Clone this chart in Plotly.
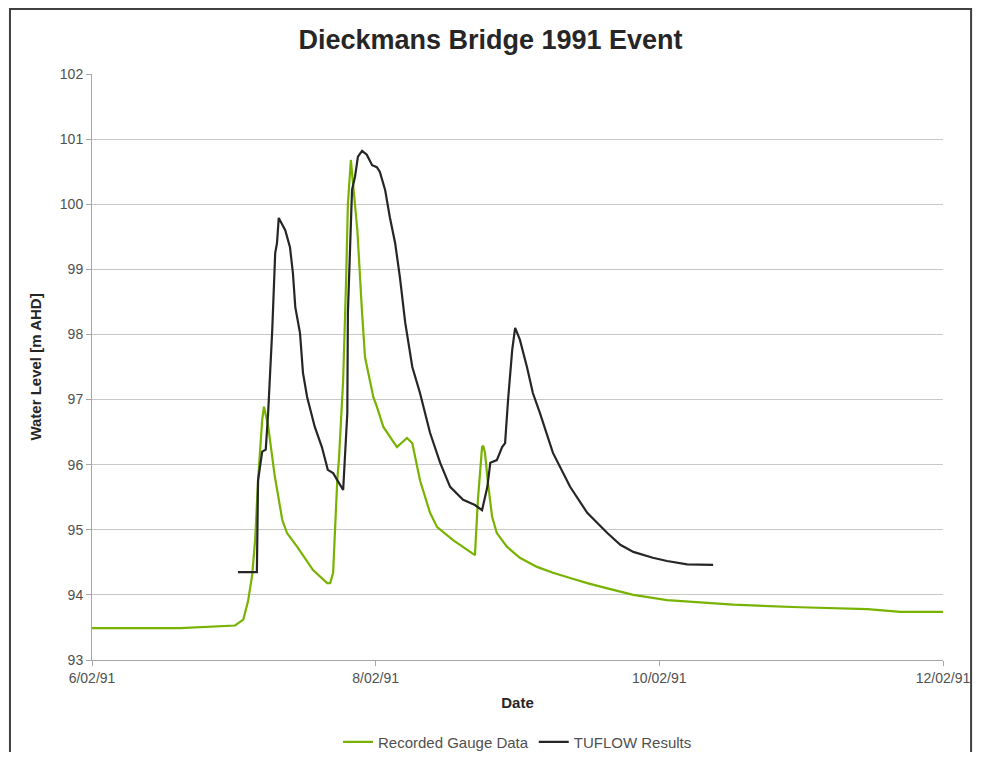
import pandas as pd
import plotly.graph_objects as go

# hours after 6/02/91 00:00 and water levels
start = pd.Timestamp("1991-02-06")

gauge_hours = [0, 14.9, 24.2, 25.6, 26.4, 27.1, 27.6, 28.1, 28.8, 29.1, 29.8, 30.9,
               32.2, 33.0, 34.7, 37.4, 39.8, 40.3, 40.8, 41.1, 41.5, 41.8, 42.5,
               43.0, 43.3, 43.8, 44.3, 44.9, 45.7, 46.2, 47.6, 48.2, 49.3, 51.6,
               53.3, 54.2, 55.5, 57.2, 58.4, 61.1, 64.8, 65.3, 66.0, 66.2, 66.5,
               67.0, 67.7, 68.5, 70.2, 72.4, 75.3, 78.0, 80.9, 83.8, 87.2, 91.6,
               97.3, 108.5, 119.8, 131.2, 136.8, 144.0]
gauge_level = [93.49, 93.49, 93.53, 93.62, 93.9, 94.3, 94.84, 95.76, 96.69, 96.89,
               96.6, 95.84, 95.15, 94.95, 94.74, 94.38, 94.18, 94.18, 94.34, 94.95,
               95.76, 96.1, 97.3, 98.84, 100.0, 100.68, 100.2, 99.6, 98.33, 97.65,
               97.04, 96.89, 96.58, 96.27, 96.41, 96.33, 95.76, 95.26, 95.04, 94.84,
               94.61, 95.46, 96.27, 96.29, 96.18, 95.72, 95.2, 94.95, 94.74, 94.57,
               94.43, 94.34, 94.26, 94.18, 94.1, 94.0, 93.92, 93.85, 93.81, 93.78,
               93.74, 93.74]

tuflow_hours = [24.7, 27.9, 28.1, 28.8, 29.4, 29.8, 30.5, 31.0, 31.3, 31.6, 32.7,
                33.5, 34.0, 34.4, 35.2, 35.7, 36.4, 37.7, 38.9, 39.9, 40.8, 42.5,
                43.2, 43.3, 44.0, 44.5, 45.0, 45.7, 46.5, 47.4, 48.2, 48.7, 49.6,
                50.4, 51.3, 52.1, 53.0, 54.2, 55.5, 57.2, 58.9, 60.6, 62.8, 64.8,
                66.0, 66.9, 67.4, 68.5, 69.4, 69.9, 70.4, 71.1, 71.6, 72.4, 73.6,
                74.6, 75.8, 78.0, 80.9, 83.8, 87.2, 89.4, 91.6, 94.9, 97.3, 100.7,
                105.1]
tuflow_level = [94.35, 94.35, 95.76, 96.2, 96.23, 96.79, 98.07, 99.25, 99.4, 99.79,
                99.6, 99.34, 98.94, 98.42, 98.02, 97.41, 97.04, 96.58, 96.27, 95.92,
                95.87, 95.61, 96.79, 98.33, 100.22, 100.42, 100.73, 100.82, 100.76,
                100.6, 100.57, 100.5, 100.22, 99.8, 99.4, 98.88, 98.18, 97.5, 97.1,
                96.49, 96.03, 95.66, 95.46, 95.38, 95.3, 95.66, 96.03, 96.07, 96.27,
                96.33, 96.99, 97.76, 98.1, 97.92, 97.5, 97.1, 96.79, 96.18, 95.66,
                95.26, 94.95, 94.77, 94.66, 94.57, 94.52, 94.47, 94.46]

gauge_x = start + pd.to_timedelta(gauge_hours, unit="h")
tuflow_x = start + pd.to_timedelta(tuflow_hours, unit="h")

fig = go.Figure()
fig.add_trace(go.Scatter(x=gauge_x, y=gauge_level, mode="lines",
                         name="Recorded Gauge Data",
                         line=dict(color="#77b300", width=2.2)))
fig.add_trace(go.Scatter(x=tuflow_x, y=tuflow_level, mode="lines",
                         name="TUFLOW Results",
                         line=dict(color="#262626", width=2.2)))

# the page body adds an 8px offset, so the figure is 16px smaller than the window
fig.update_layout(
    width=965, height=744,
    margin=dict(l=84, r=30, t=66, b=92, autoexpand=False),
    paper_bgcolor="white", plot_bgcolor="white",
    font=dict(family="Liberation Sans, Arial", size=14, color="#505050"),
    title=dict(text="<b>Dieckmans Bridge 1991 Event</b>", x=0.5, xanchor="center",
               y=0.957, yanchor="middle",
               font=dict(size=27, color="#262626")),
    showlegend=True,
    legend=dict(orientation="h", x=0.5, xanchor="center",
                y=-0.14, yanchor="middle",
                font=dict(size=15, color="#505050")),
)
fig.update_xaxes(
    type="date", range=["1991-02-06", "1991-02-12"],
    dtick=2 * 86400000, tick0="1991-02-06", tickformat="%-d/%m/%y",
    tickfont=dict(size=14),
    showgrid=False, showline=True, linecolor="#a6a6a6", linewidth=1,
    ticks="outside", ticklen=5, tickcolor="#a6a6a6", automargin=False,
    title=dict(text="<b>Date</b>", standoff=12, font=dict(size=15, color="#262626")),
)
fig.update_yaxes(
    range=[93, 102], dtick=1, tickfont=dict(size=14),
    showgrid=True, gridcolor="#c8c8c8", gridwidth=1,
    showline=True, linecolor="#a6a6a6", linewidth=1,
    ticks="outside", ticklen=5, tickcolor="#a6a6a6", automargin=False,
    title=dict(text="<b>Water Level [m AHD]</b>", standoff=14,
               font=dict(size=15, color="#262626")),
)

# outer frame of the chart area
fig.add_shape(type="rect", xref="paper", yref="paper",
              x0=-0.0964, x1=1.033, y0=-0.25, y1=1.111,
              line=dict(color="#404040", width=2), layer="below")

fig.write_html("out.html")
